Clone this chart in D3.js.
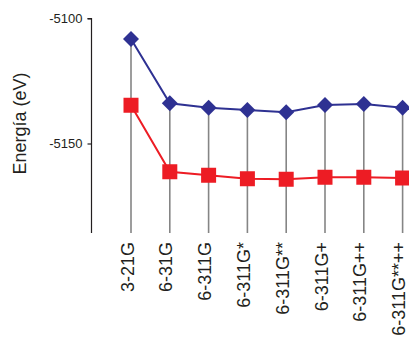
<!DOCTYPE html>
<html>
<head>
<meta charset="utf-8">
<script src="https://cdn.jsdelivr.net/npm/d3@7"></script>
<style>
  html, body { margin: 0; padding: 0; background: #fff; }
  svg { display: block; font-family: "Liberation Sans", Arial, sans-serif; }
</style>
</head>
<body>
<svg id="chart" width="409" height="338"></svg>
<script>
// Basis sets along the horizontal axis
const basisSets = ["3-21G", "6-31G", "6-311G", "6-311G*", "6-311G**", "6-311G+", "6-311G++", "6-311G**++"];
// Total energies (eV) for the two series
const energyBlue = [-5108.2, -5133.9, -5135.7, -5136.6, -5137.5, -5134.6, -5134.2, -5135.7];
const energyRed  = [-5134.7, -5161.3, -5162.7, -5164.1, -5164.3, -5163.5, -5163.5, -5163.8];
// Y axis ticks
const yTicks = [-5100, -5150];
const yTitle = "Energía (eV)";

const svg = d3.select("#chart");

const x = d3.scalePoint().domain(basisSets).range([131, 402.6]).padding(0);
const y = d3.scaleLinear().domain([-5185.8, -5100]).range([233, 18.5]);

// Drop lines from the upper point of each category to the bottom of the plot
svg.append("g").selectAll("line")
  .data(basisSets)
  .join("line")
  .attr("x1", d => x(d)).attr("x2", d => x(d))
  .attr("y1", (d, i) => y(Math.max(energyBlue[i], energyRed[i])))
  .attr("y2", y.range()[0])
  .attr("stroke", "#858585")
  .attr("stroke-width", 1.6);

// Y axis
const yAxis = d3.axisLeft(y).tickValues(yTicks).tickSize(4).tickPadding(5)
  .tickFormat(d => String(d));
const gy = svg.append("g").attr("transform", "translate(91.5,0)").call(yAxis);
gy.select(".domain").attr("stroke", "#231f20").attr("stroke-width", 1.2).attr("d", `M-4,${y(-5100)}H0V${y.range()[0]}`);
gy.selectAll(".tick line").attr("stroke", "#231f20").attr("stroke-width", 1.2);
gy.selectAll(".tick text").attr("font-size", 13).attr("fill", "#231f20")
  .attr("font-family", "'Liberation Sans', Arial, sans-serif");

// Y axis title
svg.append("text")
  .attr("transform", `translate(25.5,123.5) rotate(-90)`)
  .attr("text-anchor", "middle")
  .attr("font-size", 18)
  .attr("fill", "#231f20")
  .text(yTitle);

// Category labels, rotated
svg.append("g").selectAll("text")
  .data(basisSets)
  .join("text")
  .attr("transform", d => `translate(${x(d) + 2.5},242) rotate(-90)`)
  .attr("text-anchor", "end")
  .attr("font-size", 18)
  .attr("fill", "#231f20")
  .text(d => d);

const line = d3.line().x((d, i) => x(basisSets[i])).y(d => y(d));

// Red series
svg.append("path").datum(energyRed)
  .attr("d", line).attr("fill", "none")
  .attr("stroke", "#ed1c24").attr("stroke-width", 2);
// Blue series
svg.append("path").datum(energyBlue)
  .attr("d", line).attr("fill", "none")
  .attr("stroke", "#2e3192").attr("stroke-width", 2);

// Square markers
const sq = 15;
svg.append("g").selectAll("rect")
  .data(energyRed)
  .join("rect")
  .attr("x", (d, i) => x(basisSets[i]) - sq / 2)
  .attr("y", d => y(d) - sq / 2)
  .attr("width", sq).attr("height", sq)
  .attr("fill", "#ed1c24");

// Diamond markers
const dm = 8;
svg.append("g").selectAll("path")
  .data(energyBlue)
  .join("path")
  .attr("transform", (d, i) => `translate(${x(basisSets[i])},${y(d)})`)
  .attr("d", `M0,${-dm}L${dm},0L0,${dm}L${-dm},0Z`)
  .attr("fill", "#2e3192");
</script>
</body>
</html>
